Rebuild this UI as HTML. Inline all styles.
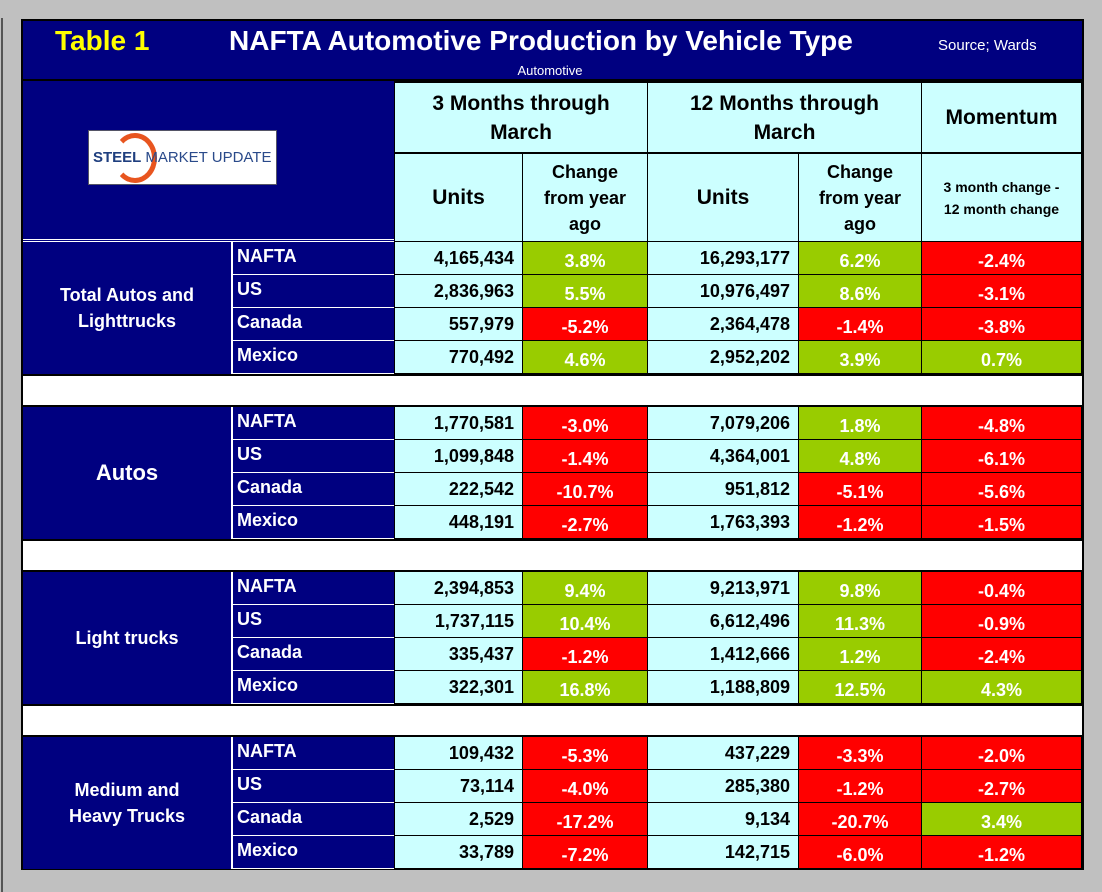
<!DOCTYPE html>
<html><head><meta charset="utf-8"><style>
body{margin:0;width:1102px;height:892px;background:#c0c0c0;position:relative;overflow:hidden;font-family:"Liberation Sans",Arial,sans-serif;font-weight:bold}
.a{position:absolute;box-sizing:border-box;display:flex;align-items:center}
</style></head><body>
<div style="position:absolute;left:1px;top:18px;width:2px;height:874px;background:#555"></div>
<div id="t" style="position:absolute;left:21px;top:19px;width:1063px;height:851px;background:#000080;border:2px solid #000;box-sizing:border-box"></div>
<script>
const groups=["Total Autos and\nLighttrucks","Autos","Light trucks","Medium and\nHeavy Trucks"];
const regions=["NAFTA","US","Canada","Mexico"];
const units3=[["4,165,434","2,836,963","557,979","770,492"],["1,770,581","1,099,848","222,542","448,191"],["2,394,853","1,737,115","335,437","322,301"],["109,432","73,114","2,529","33,789"]];
const chg3=[[3.8,5.5,-5.2,4.6],[-3.0,-1.4,-10.7,-2.7],[9.4,10.4,-1.2,16.8],[-5.3,-4.0,-17.2,-7.2]];
const units12=[["16,293,177","10,976,497","2,364,478","2,952,202"],["7,079,206","4,364,001","951,812","1,763,393"],["9,213,971","6,612,496","1,412,666","1,188,809"],["437,229","285,380","9,134","142,715"]];
const chg12=[[6.2,8.6,-1.4,3.9],[1.8,4.8,-5.1,-1.2],[9.8,11.3,1.2,12.5],[-3.3,-1.2,-20.7,-6.0]];
const mom=[[-2.4,-3.1,-3.8,0.7],[-4.8,-6.1,-5.6,-1.5],[-0.4,-0.9,-2.4,4.3],[-2.0,-2.7,3.4,-1.2]];
function box(name,x,y,w,h,bg,html,st){const d=document.createElement('div');d.className='a';


d.style.cssText=`left:${x}px;top:${y}px;width:${w}px;height:${h}px;background:${bg};`+(st||'');d.innerHTML=html;document.body.appendChild(d);return d;}
const B='border:1px solid #000;';
box('table-label',55,24,120,34,'transparent','Table 1','color:#ffff00;font-size:28px');
box('table-title',229,24,690,34,'transparent','NAFTA Automotive Production by Vehicle Type','color:#fff;font-size:28px');
box('source-note',938,34,130,22,'transparent','Source; Wards','color:#fff;font-size:15px;font-weight:normal');
box('subtitle',480,61,140,18,'transparent','Automotive','color:#fff;font-size:13px;font-weight:normal;justify-content:center');
box('title-divider',23,79,1059,2,'#000','');
box('logo',88,130,189,55,'#fff','<span style="color:#1f3f7f;font-size:15px;margin-left:4px;position:relative;z-index:1">STEEL</span><span style="color:#2a4a8a;font-size:15px;font-weight:normal;margin-left:4px;position:relative;z-index:1">MARKET UPDATE</span><div style="position:absolute;left:24px;top:2px;width:44px;height:50px;border-radius:50%;border:5px solid #e8551f;border-left-color:transparent;box-sizing:border-box"></div>','border:1px solid #556');
box('header-divider',23,239,372,3,'#000080','','border-top:1px solid #fff;border-bottom:1px solid #fff');
const hs='background:#ccffff;'+B+'justify-content:center;text-align:center;color:#000;';
box('header-3-months',394,81,254,73,'#ccffff','3 Months through<br>March',hs+'font-size:21px;line-height:29px;border-width:2px 1px');
box('header-12-months',647,81,275,73,'#ccffff','12 Months through<br>March',hs+'font-size:21px;line-height:29px;border-width:2px 1px');
box('header-momentum',921,81,161,73,'#ccffff','Momentum',hs+'font-size:21px;border-width:2px 1px');
box('header-units-3m',394,153,129,89,'#ccffff','Units',hs+'font-size:21px');
box('header-change-3m',522,153,126,89,'#ccffff','Change<br>from year<br>ago',hs+'font-size:18px;line-height:26px');
box('header-units-12m',647,153,152,89,'#ccffff','Units',hs+'font-size:21px');
box('header-change-12m',798,153,124,89,'#ccffff','Change<br>from year<br>ago',hs+'font-size:18px;line-height:26px');
box('header-momentum-desc',921,153,161,89,'#ccffff','3 month change -<br>12 month change',hs+'font-size:14px;line-height:22px');
const pc=v=>(v<0?'-':'')+Math.abs(v).toFixed(1)+'%';
groups.forEach((g,gi)=>{const y0=241+gi*165;
 box('group-label-'+gi,23,y0+1,210,132,'#000080',g.replace('\n','<br>'),'color:#fff;justify-content:center;text-align:center;font-size:'+(gi==1?22:18)+'px;line-height:26px;border-right:2px solid #fff');
 if(gi<3)box('spacer-row-'+gi,23,y0+133,1059,33,'#fff','','border-top:2px solid #000;border-bottom:2px solid #000');
 regions.forEach((r,ri)=>{const y=y0+ri*33;
  box('region-'+gi+'-'+ri,233,y+1,162,33,'#000080',r,'color:#fff;font-size:18px;padding-left:4px;border-bottom:1px solid #fff;padding-bottom:4px');
  box('units3-'+gi+'-'+ri,394,y,129,34,'#ccffff',units3[gi][ri],B+'justify-content:flex-end;padding-right:8px;font-size:18px;color:#000');
  const cs=(v,n,x,w)=>box(n,x,y,w,34,v>=0?'#99cc00':'#ff0000',pc(v),B+'justify-content:center;font-size:18px;color:#fff;padding-top:6px');
  cs(chg3[gi][ri],'chg3-'+gi+'-'+ri,522,126);
  box('units12-'+gi+'-'+ri,647,y,152,34,'#ccffff',units12[gi][ri],B+'justify-content:flex-end;padding-right:8px;font-size:18px;color:#000');
  cs(chg12[gi][ri],'chg12-'+gi+'-'+ri,798,124);
  cs(mom[gi][ri],'momentum-'+gi+'-'+ri,921,161);
 });});
</script>
</body></html>
